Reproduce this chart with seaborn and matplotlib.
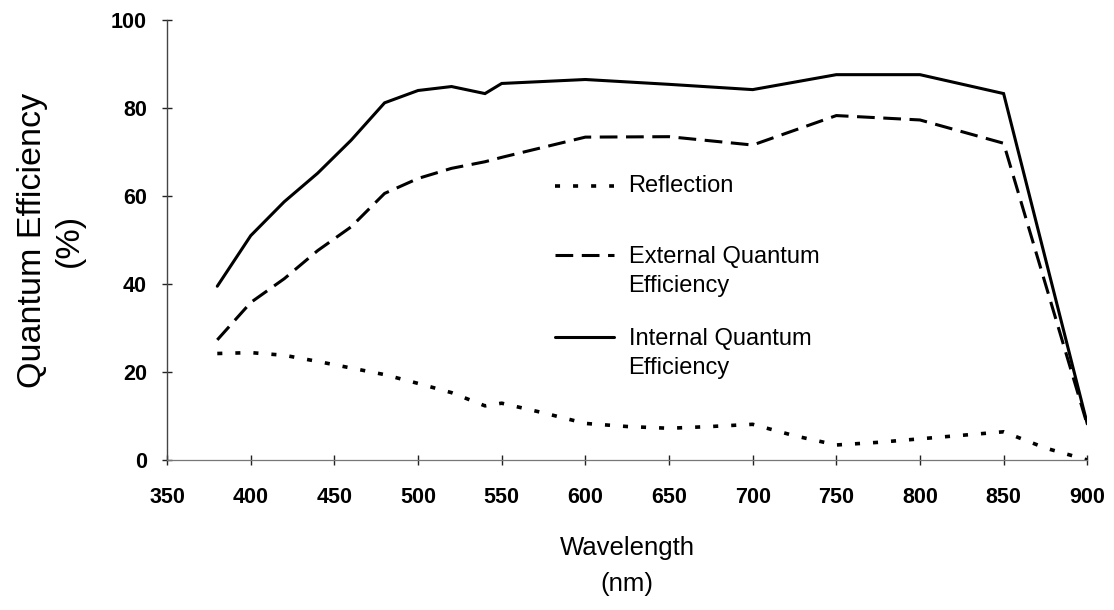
import matplotlib
matplotlib.use("Agg")
import matplotlib.pyplot as plt
from matplotlib.legend_handler import HandlerLine2D
import numpy as np
import seaborn as sns
import pandas as pd

sns.set_theme(style="white")
plt.rcParams['font.family'] = ['Liberation Sans', 'DejaVu Sans']
plt.rcParams.update({'text.color': 'black', 'axes.labelcolor': 'black',
                     'xtick.color': 'black', 'ytick.color': 'black'})

wavelength = [380, 400, 420, 440, 460, 480, 500, 520, 540, 550, 600, 650, 700, 750, 800, 850, 900]
internal_qe = [39.5, 51.0, 58.7, 65.2, 72.7, 81.2, 84.0, 84.9, 83.3, 85.6, 86.5, 85.4, 84.2, 87.6, 87.6, 83.3, 8.2]
external_qe = [27.3, 35.8, 41.2, 47.6, 53.0, 60.6, 64.0, 66.3, 67.8, 68.8, 73.4, 73.5, 71.6, 78.3, 77.3, 72.0, 8.0]

refl_wavelength = [380, 400, 420, 440, 460, 480, 500, 520, 540, 550, 575, 600, 625, 650, 675, 700,
                   725, 750, 775, 800, 825, 850, 875, 900]
reflection = [24.2, 24.4, 23.8, 22.4, 20.9, 19.4, 17.4, 15.3, 12.3, 12.9, 10.7, 8.3, 7.6, 7.2, 7.6, 8.1,
              5.5, 3.4, 4.0, 4.8, 5.6, 6.4, 2.7, 0.0]

xticks = [350, 400, 450, 500, 550, 600, 650, 700, 750, 800, 850, 900]
yticks = [0, 20, 40, 60, 80, 100]

labels = ["Reflection\n", "External Quantum\nEfficiency", "Internal Quantum\nEfficiency"]

df_refl = pd.DataFrame({"Wavelength": refl_wavelength, "Value": reflection})
df_ext = pd.DataFrame({"Wavelength": wavelength, "Value": external_qe})
df_int = pd.DataFrame({"Wavelength": wavelength, "Value": internal_qe})

fig = plt.figure(figsize=(11.14, 6.10), dpi=100)
ax = fig.add_axes([0.150, 0.246, 0.826, 0.721])

lw = 2.2
sns.lineplot(data=df_refl, x="Wavelength", y="Value", ax=ax, color="black", lw=2.6,
             linestyle=(0, (1.4, 3.6)), label=labels[0], sort=False)
sns.lineplot(data=df_ext, x="Wavelength", y="Value", ax=ax, color="black", lw=lw,
             linestyle=(0, (5.8, 2.8)), label=labels[1], sort=False)
sns.lineplot(data=df_int, x="Wavelength", y="Value", ax=ax, color="black", lw=lw,
             linestyle="-", label=labels[2], sort=False)
for ln in ax.get_lines():
    ln.set_dash_capstyle("butt")
    ln.set_solid_joinstyle("miter")

ax.set_xlim(350, 900)
ax.set_ylim(0, 100)
ax.set_xticks(xticks)
ax.set_yticks(yticks)
ax.set_xticklabels([str(v) for v in xticks], fontsize=15.5, fontweight="bold")
ax.set_yticklabels([str(v) for v in yticks], fontsize=15.5, fontweight="bold")
ax.tick_params(axis="both", direction="inout", length=7, width=1, color="#222222",
               bottom=True, left=True)
ax.tick_params(axis="x", pad=16)
ax.tick_params(axis="y", pad=11)

for s in ["top", "right"]:
    ax.spines[s].set_visible(False)
ax.spines["left"].set_color("#444444")
ax.spines["left"].set_linewidth(1.0)
ax.spines["bottom"].set_color("#777777")
ax.spines["bottom"].set_linewidth(0.9)
ax.grid(False)
ax.set_facecolor("white")

ax.set_xlabel("Wavelength\n(nm)", fontsize=18.5, labelpad=20, linespacing=1.65)
ax.set_ylabel("Quantum Efficiency\n(%)", fontsize=24.5, labelpad=19, linespacing=1.22)


class FirstLineHandler(HandlerLine2D):
    def __init__(self, dy=0.0, **kw):
        super().__init__(**kw)
        self.dy = dy

    def create_artists(self, legend, orig_handle, xdescent, ydescent, width, height,
                       fontsize, trans):
        arts = super().create_artists(legend, orig_handle, xdescent, ydescent, width,
                                      height, fontsize, trans)
        for a in arts:
            a.set_ydata(np.asarray(a.get_ydata(), dtype=float) + self.dy)
        return arts


handles, hl = ax.get_legend_handles_labels()
hmap = {handles[0]: FirstLineHandler(7.0),
        handles[1]: FirstLineHandler(12.0),
        handles[2]: FirstLineHandler(12.0)}
leg = ax.legend(handles, hl, loc="upper left", bbox_to_anchor=(0.422, 0.648), frameon=False,
                fontsize=17, handlelength=2.5, handletextpad=0.6, labelspacing=1.3,
                borderpad=0, borderaxespad=0, handler_map=hmap)
texts = leg.get_texts()
texts[0].set_linespacing(0.79)
for t in texts[1:]:
    t.set_linespacing(1.43)

fig.savefig("out.png", dpi=100, facecolor="white")
